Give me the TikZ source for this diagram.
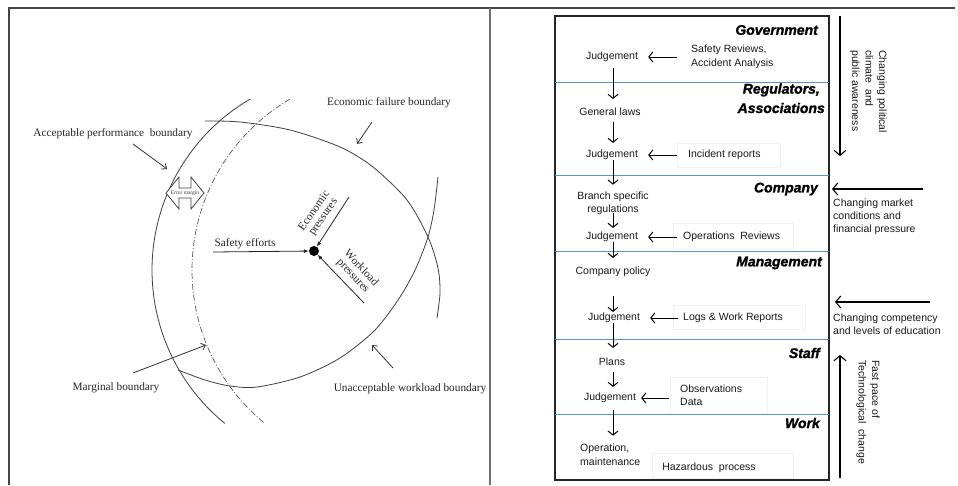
\documentclass[tikz,border=0pt]{standalone}
\usepackage{fontspec}
\setmainfont{Liberation Serif}
\setsansfont{Liberation Sans}
\newfontfamily\hdrfont[FakeBold=1.4]{Liberation Sans}
\usetikzlibrary{arrows.meta}
\definecolor{linegray}{RGB}{70,70,70}
\definecolor{sepblue}{RGB}{91,145,205}
\begin{document}
\begin{tikzpicture}[x=1pt,y=-1pt,
  frame/.style={draw=linegray,line width=1.1pt},
  divider/.style={draw=black!55,line width=2pt},
  bnd/.style={draw=black!75,line width=0.8pt},
  dashbnd/.style={draw=black!65,line width=0.7pt,dash pattern=on 6pt off 2pt on 1pt off 2pt},
  lbl/.style={font=\fontsize{11.3}{12}\selectfont,inner sep=0pt,text=black!85},
  ptr/.style={draw=black!80,line width=0.8pt,-{Straight Barb[length=4pt,width=7pt]}},
  push/.style={draw=black!85,line width=0.8pt,-{Latex[length=5pt,width=4pt]}},
  rtxt/.style={font=\sffamily\fontsize{10.5}{13.5}\selectfont,inner sep=0pt,text=black!90},
  hdr/.style={font=\hdrfont\bfseries\itshape\fontsize{14}{16}\selectfont,inner sep=0pt,anchor=east},
  flow/.style={draw=black,line width=1pt,-{Straight Barb[length=4pt,width=10pt]}},
  bigflow/.style={draw=black,line width=1.1pt,-{Straight Barb[length=5pt,width=12pt]}},
  sepline/.style={draw=sepblue,line width=1pt},
  faint/.style={draw=black!5,line width=0.5pt}
]
\useasboundingbox (0,0) rectangle (958,485);
\fill[white] (0,0) rectangle (958,485);

% ---------- frame ----------
\draw[frame] (9,485) -- (9,8) -- (955,8);
\draw[divider] (490,8) -- (490,485);

% ---------- left panel: boundaries ----------
\draw[bnd] plot[domain=129.2:239.8,samples=80,variable=\t] ({350+198*cos(\t)},{270+198*sin(\t)});
\draw[dashbnd] plot[domain=129.7:239.6,samples=80,variable=\t] ({390+198*cos(\t)},{270+198*sin(\t)});
\draw[bnd] plot[smooth] coordinates {(205,121) (240,122) (290,130) (340,147) (373,167) (407,200) (428,237) (438,268) (440,293) (437,318)};
\draw[bnd] plot[smooth] coordinates {(438,177) (434,210) (428,237) (416,268) (400,297) (375,330) (340,358) (300,377) (257,387) (230,386) (205,380) (178,370)};

% ---------- left panel: labels ----------
\node[lbl] (efb) at (389,103) {Economic failure boundary};
\node[lbl] (apb) at (113,134) {Acceptable performance\ \ boundary};
\node[lbl] (mb) at (116,388) {Marginal boundary};
\node[lbl] (uwb) at (410,389) {Unacceptable workload boundary};
\node[lbl] (se) at (245,244) {Safety efforts};
\node[lbl,align=center,rotate=55,font=\fontsize{11.3}{11}\selectfont] (ep) at (319,214) {Economic\\pressures};
\node[lbl,align=center,rotate=-47,font=\fontsize{11.3}{11}\selectfont] (wp) at (357,272) {Workload\\pressures};
\node[circle,fill=black,minimum size=10pt,inner sep=0pt] (dot) at (314,251) {};

\coordinate (efbA) at (372,122); \coordinate (efbB) at (357,144);
\coordinate (apbA) at (133,144); \coordinate (apbB) at (167,169);
\coordinate (mbA) at (133,373);  \coordinate (mbB) at (206,345);
\coordinate (uwbA) at (393,368); \coordinate (uwbB) at (372,345);
\coordinate (seA) at (213,252);
\coordinate (epA) at (349,197);
\coordinate (wpA) at (364,303);
\draw[ptr] (efbA) -- (efbB);
\draw[ptr] (apbA) -- (apbB);
\draw[ptr] (mbA) -- (mbB);
\draw[ptr] (uwbA) -- (uwbB);
\draw[push] (seA) -- (dot);
\draw[push] (epA) -- (dot);
\draw[push] (wpA) -- (dot);

% error margin double arrow
\draw[draw=black!75,line width=0.8pt,fill=white] (166,193) -- (179,177) -- (179,188) -- (191,188) -- (191,177) -- (204,193) -- (191,209) -- (191,198) -- (179,198) -- (179,209) -- cycle;
\node[inner sep=0pt,font=\fontsize{5.5}{6}\selectfont,text=black!75] (em) at (185,193) {Error margin};

% ---------- right panel ----------
\draw[faint] (677,143) rectangle (780,167);
\draw[faint] (673,223) rectangle (793,249);
\draw[faint] (673,305) rectangle (805,329);
\draw[faint] (670,377) rectangle (767,414);
\draw[faint] (652,453) rectangle (793,478);

\draw[draw=black!85,line width=1.1pt] (555,16) rectangle (829,480);
\draw[sepline] (555,82) -- (829,82);
\draw[sepline] (555,175) -- (829,175);
\draw[sepline] (555,251) -- (829,251);
\draw[sepline] (555,339) -- (829,339);
\draw[sepline] (555,414) -- (829,414);

\node[hdr] (gov) at (818,30) {Government};
\node[hdr] (reg) at (820,90) {Regulators,};
\node[hdr] (asc) at (825,108) {Associations};
\node[hdr] (com) at (818,189) {Company};
\node[hdr] (man) at (822,263) {Management};
\node[hdr] (sta) at (820,353) {Staff};
\node[hdr] (wor) at (820,423) {Work};

\node[rtxt] (j1) at (612,57) {Judgement};
\node[rtxt,anchor=west,align=left] (sr) at (691,57) {Safety Reviews,\\Accident Analysis};
\node[rtxt] (gl) at (610,112) {General laws};
\node[rtxt] (j2) at (612,155) {Judgement};
\node[rtxt,anchor=west] (ir) at (688,155) {Incident reports};
\node[rtxt,align=center] (bs) at (613,203.5) {Branch specific\\regulations};
\node[rtxt] (j3) at (612,237) {Judgement};
\node[rtxt,anchor=west] (opr) at (683,237) {Operations\ \ Reviews};
\node[rtxt] (cp) at (613,272) {Company policy};
\node[rtxt] (j4) at (614,318) {Judgement};
\node[rtxt,anchor=west] (lw) at (683,318) {Logs \& Work Reports};
\node[rtxt] (pl) at (612,362) {Plans};
\node[rtxt] (j5) at (610,398) {Judgement};
\node[rtxt,anchor=west,align=left] (ob) at (680,395) {Observations\\Data};
\node[rtxt,anchor=west,align=left] (om) at (580,454.5) {Operation,\\maintenance};
\node[rtxt] (hp) at (709,468) {Hazardous\ \ process};

\draw[flow,shorten <=14pt,shorten >=10pt] (sr.west) -- (j1.east);
\draw[flow,shorten <=11pt,shorten >=10pt] (ir.west) -- (j2.east);
\draw[flow,shorten <=6pt,shorten >=10pt] (opr.west) -- (j3.east);
\draw[flow,shorten <=5pt,shorten >=10pt] (lw.west) -- (j4.east);
\draw[flow,shorten <=11pt,shorten >=5pt] (ob.west |- j5) -- (j5.east);

\draw[flow,shorten <=6pt,shorten >=9pt] (j1.south -| 613,0) -- (gl.north -| 613,0);
\draw[flow,shorten <=6pt,shorten >=7pt] (gl.south -| 613,0) -- (j2.north -| 613,0);
\draw[flow,shorten <=0pt,shorten >=7pt] (j2.south -| 613,0) -- (bs.north -| 613,0);
\draw[flow,shorten <=-2pt,shorten >=4pt] (bs.south -| 613,0) -- (j3.north -| 613,0);
\draw[flow,shorten <=0pt,shorten >=9pt] (j3.south -| 613,0) -- (cp.north -| 613,0);
\draw[flow,shorten <=19pt,shorten >=1pt] (cp.south -| 613,0) -- (j4.north -| 613,0);
\draw[flow,shorten <=0pt,shorten >=10pt] (j4.south -| 613,0) -- (pl.north -| 613,0);
\draw[flow,shorten <=6pt,shorten >=6pt] (pl.south -| 613,0) -- (j5.north -| 613,0);
\draw[flow,shorten <=7pt,shorten >=8pt] (j5.south -| 613,0) -- (om.north -| 613,0);

% ---------- outside influences ----------
\node[rtxt,rotate=-90,anchor=north west,align=left] (pol) at (887,50) {Changing political\\climate\ \ and\\public awareness};
\node[rtxt,anchor=north west,align=left,font=\sffamily\fontsize{10.5}{13}\selectfont] (mkt) at (833,199) {Changing market\\conditions and\\financial pressure};
\node[rtxt,anchor=north west,align=left,font=\sffamily\fontsize{10.5}{12.5}\selectfont] (cmp) at (833,314) {Changing competency\\and levels\ of education};
\node[rtxt,rotate=-90,anchor=north west,align=left] (tec) at (880,360) {Fast pace of\\Technological\ \ change};

\coordinate (polA) at (840,16);  \coordinate (polB) at (840,156);
\coordinate (mktA) at (923,189); \coordinate (mktB) at (832,189);
\coordinate (cmpA) at (930,302); \coordinate (cmpB) at (835,302);
\coordinate (tecA) at (840,478); \coordinate (tecB) at (840,355);
\draw[bigflow] (polA) -- (polB);
\draw[bigflow] (mktA) -- (mktB);
\draw[bigflow] (cmpA) -- (cmpB);
\draw[bigflow] (tecA) -- (tecB);
\end{tikzpicture}
\end{document}
